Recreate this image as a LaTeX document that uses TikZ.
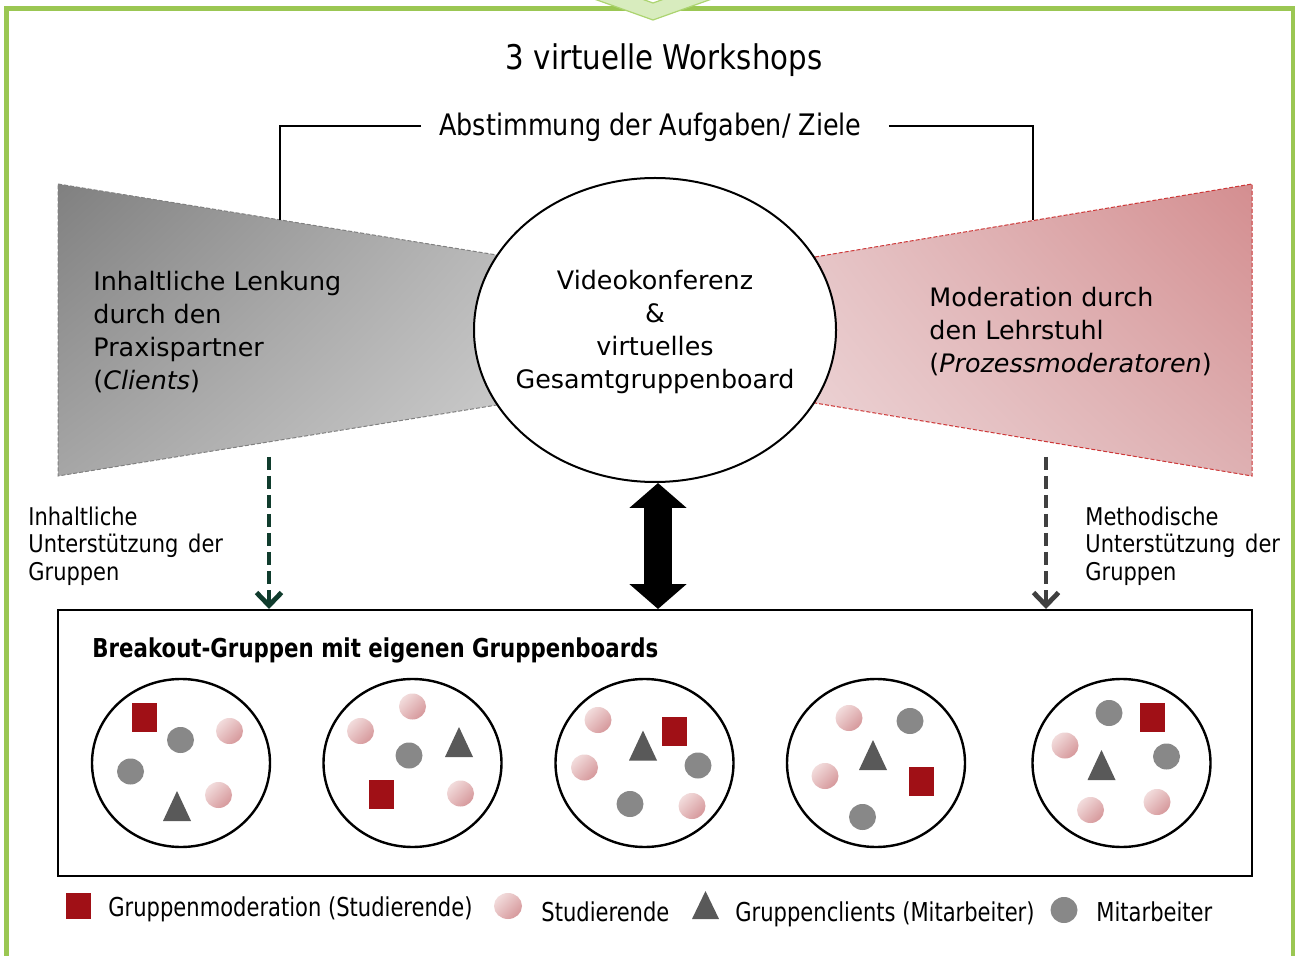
\documentclass[tikz,border=0pt]{standalone}
\usepackage{fontspec}
\setmainfont{DejaVu Sans}
\newfontfamily\tah[FakeStretch=0.86]{DejaVu Sans}
\newfontfamily\tahb[FakeStretch=0.82]{DejaVu Sans}
\newfontfamily\leg[FakeStretch=0.81]{DejaVu Sans}
\usetikzlibrary{shapes.geometric,arrows.meta,shadings}
\definecolor{gborder}{RGB}{155,199,83}
\definecolor{chevfill}{RGB}{216,236,190}
\definecolor{chevline}{RGB}{172,212,112}
\definecolor{gA}{RGB}{128,128,128}
\definecolor{gB}{RGB}{180,180,180}
\definecolor{gC}{RGB}{166,166,166}
\definecolor{gD}{RGB}{206,206,206}
\definecolor{rA}{RGB}{228,192,194}
\definecolor{rB}{RGB}{212,142,144}
\definecolor{rC}{RGB}{237,213,215}
\definecolor{rD}{RGB}{222,176,178}
\definecolor{reddash}{RGB}{205,55,55}
\definecolor{sqred}{RGB}{160,16,22}
\definecolor{dotgray}{RGB}{136,136,136}
\definecolor{trigray}{RGB}{89,89,89}
\definecolor{pinkL}{RGB}{242,220,220}
\definecolor{pinkD}{RGB}{214,152,155}
\definecolor{agreen}{RGB}{16,60,45}
\definecolor{agray}{RGB}{64,64,64}
\newcommand\mysq[2]{\fill[sqred] (#1,#2) ++(-12.5,-14.5) rectangle ++(25,29);}
\newcommand\mygr[2]{\fill[dotgray] (#1,#2) ellipse[x radius=6.75pt,y radius=6.5pt];}
\newcommand\mypk[2]{\shade[top color=pinkL,bottom color=pinkD,shading angle=45] (#1,#2) ellipse[x radius=6.75pt,y radius=6.5pt];}
\newcommand\mytri[2]{\fill[trigray] (#1,#2) ++(-14,15) -- ++(14,-30) -- ++(14,30) -- cycle;}
\begin{document}
\begin{tikzpicture}[x=0.5pt,y=-0.5pt,
  bodytext/.style={font={\fontsize{12.7}{16.5}\selectfont}, inner sep=0pt},
  sidetext/.style={font={\tah\fontsize{12.2}{13.75}\selectfont}, align=left, inner sep=0pt},
  legtext/.style={font={\leg\fontsize{13}{15}\selectfont}, inner sep=0pt, anchor=base west},
  group/.style={draw, ellipse, line width=1.2pt, minimum width=89pt, minimum height=84pt, inner sep=0pt},
  garrow/.style={draw=agreen, line width=2.4pt, dash pattern=on 6.5pt off 3pt, -{Straight Barb[length=6.5pt,width=12.5pt]}},
  grarrow/.style={draw=agray, line width=2.4pt, dash pattern=on 6.5pt off 3pt, -{Straight Barb[length=6.5pt,width=12.5pt]}},
  bigarrow/.style={line width=14pt, {Triangle[length=12.5pt,width=28pt]}-{Triangle[length=12.5pt,width=28pt]}},
  bracket/.style={line width=0.8pt}]
\useasboundingbox (0,0) rectangle (1295,956);
\fill[white] (0,0) rectangle (1295,956);
% green frame and chevron
\draw[gborder, line width=2.5pt] (6,8.5) rectangle (1293,1000);
\filldraw[fill=chevfill, draw=chevline, line width=0.6pt]
  (590,-2.5) -- (653,20) -- (716,-2.5) -- (668.4,-2.5) -- (653,3) -- (637.6,-2.5) -- cycle;
% titles
\node[font={\tah\fontsize{17}{20}\selectfont}, inner sep=0pt, anchor=base] (title) at (664,70) {3 virtuelle Workshops};
\node[font={\tah\fontsize{14.8}{17}\selectfont}, inner sep=0pt, anchor=base] (abst) at (650.5,136) {Abstimmung der Aufgaben/ Ziele};
% trapezoids
\shade[upper left=gA, upper right=gB, lower left=gC, lower right=gD]
  (58,184) -- (497,255) -- (497,405) -- (58,476) -- cycle;
\draw[gray, line width=0.5pt, dash pattern=on 2pt off 1pt]
  (58,184) -- (497,255) -- (497,405) -- (58,476) -- cycle;
\shade[upper left=rA, upper right=rB, lower left=rC, lower right=rD]
  (815,257) -- (1252,184) -- (1252,476) -- (815,403) -- cycle;
\draw[reddash, line width=0.5pt, dash pattern=on 2pt off 1pt]
  (815,257) -- (1252,184) -- (1252,476) -- (815,403) -- cycle;
% bracket
\coordinate (lb) at (280,220);
\coordinate (rb) at (1033,220);
\draw[bracket] ([xshift=-9pt,yshift=1pt]abst.west) -| (lb);
\draw[bracket] ([xshift=13.5pt,yshift=1pt]abst.east) -| (rb);
% central ellipse
\node[draw, ellipse, fill=white, line width=1pt, minimum width=181pt, minimum height=152pt, inner sep=0pt] (ell) at (655,330) {};
\node[bodytext, align=center] (elltext) at (655,332) {Videokonferenz\\\&\\virtuelles\\Gesamtgruppenboard};
\node[bodytext, align=left, anchor=west] (lefttext) at (93,332) {Inhaltliche Lenkung\\durch den\\Praxispartner\\(\textit{Clients})};
\node[bodytext, align=left, anchor=west] (righttext) at (929,332) {Moderation durch\\den Lehrstuhl\\(\textit{Prozessmoderatoren})};
% side labels
\node[sidetext, anchor=west] (sideL) at (28,546) {Inhaltliche\\Unterstützung\hspace{0.4em}der\\Gruppen};
\node[sidetext, anchor=west] (sideR) at (1085,546) {Methodische\\Unterstützung\hspace{0.4em}der\\Gruppen};
% breakout box
\node[draw, line width=1pt, minimum width=597pt, minimum height=133pt, inner sep=0pt] (box) at (655,743) {};
\node[font={\tahb\bfseries\fontsize{13}{15}\selectfont}, inner sep=0pt, anchor=base west] (boxtitle) at (92,657) {Breakout-Gruppen mit eigenen Gruppenboards};
% arrows
\coordinate (ls) at (269,457);
\coordinate (rs) at (1046,457);
\draw[garrow] (ls) -- (ls |- box.north);
\draw[grarrow] (rs) -- (rs |- box.north);
\draw[bigarrow] ([xshift=1.5pt]ell.south) -- ([xshift=1.5pt]ell.south |- box.north);
% groups
\node[group] (g1) at (181,763) {};
\node[group] (g2) at (412.5,763) {};
\node[group] (g3) at (644.5,763) {};
\node[group] (g4) at (876,763) {};
\node[group] (g5) at (1121.5,763) {};
% group 1
\mysq{144.5}{717.5} \mygr{180.5}{740} \mypk{229.5}{731} \mygr{130.5}{771.5} \mypk{218.5}{795} \mytri{177}{806}
% group 2
\mypk{412.5}{706.5} \mypk{360.5}{731} \mytri{459}{742} \mygr{409}{755.5} \mysq{381.5}{794.5} \mypk{460.5}{793.5}
% group 3
\mypk{598}{720} \mysq{674}{731} \mytri{643}{745.5} \mypk{584.5}{767.5} \mygr{698}{765.5} \mygr{630}{804} \mypk{692}{806}
% group 4
\mypk{849}{718} \mygr{910}{721} \mytri{873}{755} \mypk{825}{776} \mysq{921.5}{781.5} \mygr{862.5}{817}
% group 5
\mygr{1109}{713} \mysq{1152.5}{717.5} \mypk{1065}{745.5} \mygr{1166.5}{756.5} \mytri{1101.5}{765} \mypk{1090.5}{810} \mypk{1157}{802}
% legend
\fill[sqred] (66,893) rectangle (91,919);
\node[legtext] (l1) at (108,916) {Gruppenmoderation (Studierende)};
\shade[top color=pinkL,bottom color=pinkD,shading angle=45] (508,906) ellipse[x radius=7pt,y radius=6.5pt];
\node[legtext] (l2) at (541,921) {Studierende};
\fill[trigray] (692,919) -- (705.5,891) -- (719,919) -- cycle;
\node[legtext] (l3) at (735,921) {Gruppenclients (Mitarbeiter)};
\fill[dotgray] (1064,910) ellipse[x radius=6.75pt,y radius=6.5pt];
\node[legtext] (l4) at (1096,921) {Mitarbeiter};
\end{tikzpicture}
\end{document}
